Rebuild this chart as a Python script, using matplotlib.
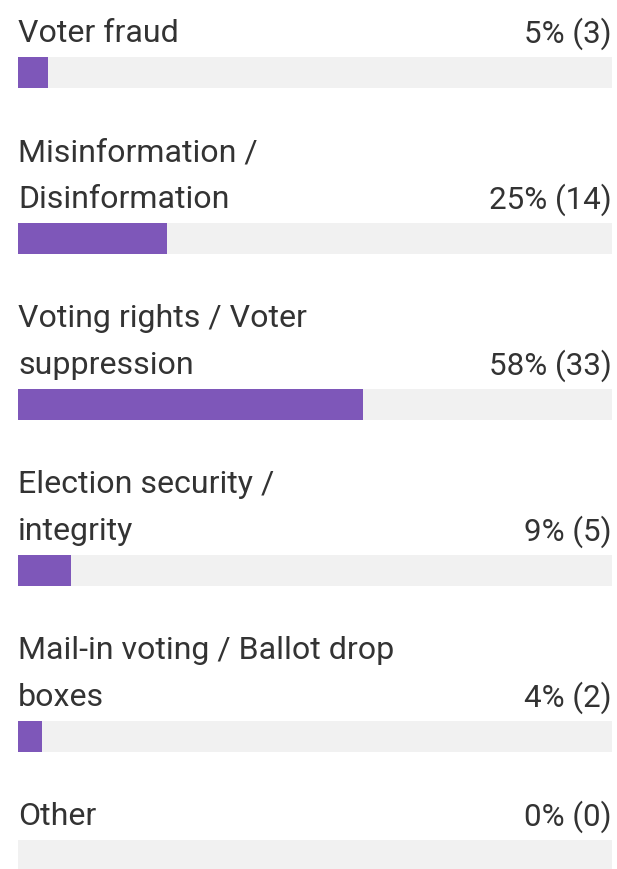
import matplotlib.pyplot as plt

# poll results
labels = [
    "Voter fraud",
    "Misinformation /\nDisinformation",
    "Voting rights / Voter\nsuppression",
    "Election security /\nintegrity",
    "Mail-in voting / Ballot drop\nboxes",
    "Other",
]
counts = [3, 14, 33, 5, 2, 0]
total = sum(counts)
percents = [round(100 * n / total) for n in counts]

PURPLE = "#7e57b9"
TRACK = "#f1f1f1"
TEXT = "#333333"

W, H = 617, 870
fig = plt.figure(figsize=(W / 100, H / 100), dpi=100)
ax = fig.add_axes([0, 0, 1, 1])

# track runs from 18px to 612px; x data is the percentage
left_px, track_px = 18, 594
ax.set_xlim(-100 * left_px / track_px, 100 * (W - left_px) / track_px)
ax.set_ylim(H, 0)
ax.axis("off")

bar_h = 31
row_gap = 119      # track top to next row's last-line track top
line_gap = 47
fs = 23.1

top = None
for lab, n, pct in zip(labels, counts, percents):
    lines = lab.split("\n")
    top = 58 if top is None else top + row_gap + (len(lines) - 1) * line_gap
    yc = top + bar_h / 2
    ax.barh(yc, 100, height=bar_h, left=0, color=TRACK, linewidth=0)
    ax.barh(yc, pct, height=bar_h, left=0, color=PURPLE, linewidth=0)

    base = top - 16
    for j, ln in enumerate(reversed(lines)):
        ax.text(0, base - j * line_gap, ln, fontsize=fs, family="Roboto",
                color=TEXT, ha="left", va="baseline")
    ax.text(100, base + 1, f"{pct}% ({n})", fontsize=22.6, family="Roboto",
            color=TEXT, ha="right", va="baseline")

fig.savefig("out.png", dpi=100, facecolor="white")
